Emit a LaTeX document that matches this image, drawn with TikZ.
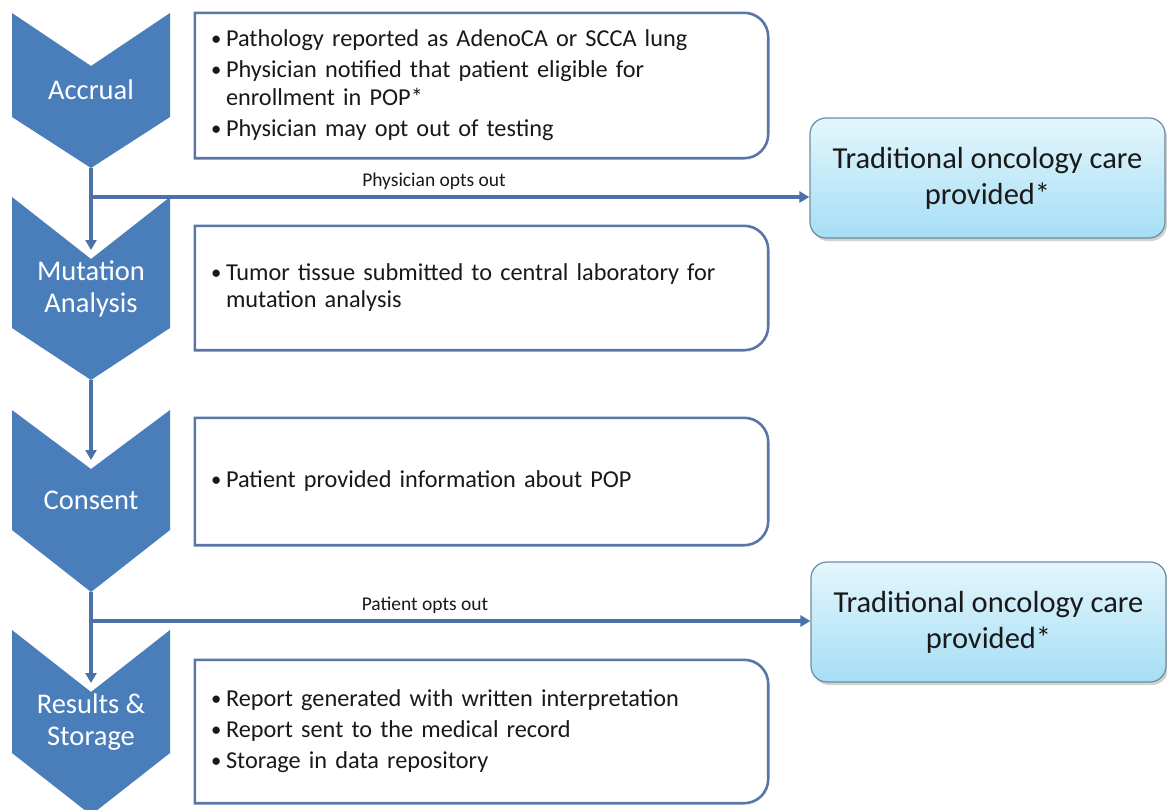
\documentclass[tikz,border=0pt]{standalone}
\usepackage{fontspec}
\setmainfont{Carlito}
\usetikzlibrary{arrows.meta,shadows}
\definecolor{chev}{RGB}{74,126,187}
\definecolor{conn}{RGB}{76,112,168}
\definecolor{tbord}{RGB}{88,118,166}
\definecolor{rbord}{RGB}{110,140,160}
\definecolor{rtop}{RGB}{228,246,252}
\definecolor{rbot}{RGB}{165,222,245}
\definecolor{txt}{RGB}{25,25,25}
\newcommand\bul{\makebox[15pt][l]{\raisebox{1pt}{\scalebox{0.85}{\textbullet}}}}
\newcommand\ind{\hspace*{15pt}}
\tikzset{
  chevshape/.style={fill=chev,draw=none},
  chevlabel/.style={text=white,font=\fontsize{28.5}{32}\selectfont,align=center,inner sep=0pt},
  tbox/.style={minimum width=573pt,minimum height=145pt,inner xsep=16pt,text width=541pt,align=left,
     text=txt,font=\fontsize{24.3}{31}\selectfont},
  tline/.style={draw=tbord,line width=2.6pt},
  rbox/.style={draw=rbord,line width=1.2pt,rounded corners=16pt,top color=rtop,bottom color=rbot,
     minimum width=355pt,minimum height=120pt,align=center,text=txt,font=\fontsize{30.5}{36}\selectfont,
     drop shadow={shadow xshift=2pt,shadow yshift=-3pt,opacity=0.35}},
  conn/.style={draw=conn,line width=3.2pt},
  arr/.style={-{Triangle[width=11pt,length=10pt]}},
  lbl/.style={text=txt,font=\fontsize{19.5}{22}\selectfont,inner sep=0pt}
}
\newcommand\outline[1]{%
  \draw[tline] (#1.south west) -- (#1.north west) -- ([xshift=-24pt]#1.north east)
    arc[start angle=90,end angle=0,radius=24pt] -- ([yshift=24pt]#1.south east)
    arc[start angle=0,end angle=-90,radius=24pt] -- cycle;}
\begin{document}
\begin{tikzpicture}[x=1pt,y=1pt]
\useasboundingbox (0,0) rectangle (1167,-809);
\fill[white] (0,0) rectangle (1167,-809);
\begin{scope}
\clip (0,0) rectangle (1167,-809);
% chevrons
\fill[chevshape] (12,-13) -- (91,-66) -- (170,-13) -- (170,-117) -- (91,-168) -- (12,-117) -- cycle;
\fill[chevshape] (12,-197) -- (91,-259) -- (170,-197) -- (170,-328) -- (91,-380) -- (12,-328) -- cycle;
\fill[chevshape] (12,-410) -- (91,-469) -- (170,-410) -- (170,-530) -- (91,-592) -- (12,-530) -- cycle;
\fill[chevshape] (12,-630) -- (91,-692) -- (170,-630) -- (170,-753) -- (91,-815) -- (12,-753) -- cycle;
\end{scope}
\node[chevlabel] (c1) at (91,-90) {Accrual};
\node[chevlabel] (c2) at (91,-289) {Mutation\\Analysis};
\node[chevlabel] (c3) at (91,-500) {Consent};
\node[chevlabel] (c4) at (91,-722) {Results \&\\Storage};
\coordinate (p1) at (91,-168);
\coordinate (n2) at (91,-259);
\coordinate (p2) at (91,-380);
\coordinate (n3) at (91,-469);
\coordinate (p3) at (91,-592);
\coordinate (n4) at (91,-692);
\coordinate (j1) at (91,-197);
\coordinate (j2) at (91,-621);
% text boxes
\node[tbox] (b1) at (481.5,-85.5) {\bul Pathology reported as AdenoCA or SCCA lung\\
\bul Physician notified that patient eligible for\\[-3pt]
\ind enrollment in POP*\\
\bul Physician may opt out of testing};
\node[tbox,minimum height=124pt] (b2) at (481.5,-288) {\bul Tumor tissue submitted to central laboratory for\\[-4pt]
\ind mutation analysis};
\node[tbox,minimum height=127pt] (b3) at (481.5,-481.5) {\bul Patient provided information about POP};
\node[tbox,minimum height=143pt] (b4) at (481.5,-731.5) {\bul Report generated with written interpretation\\
\bul Report sent to the medical record\\
\bul Storage in data repository};
\outline{b1}
\outline{b2}
\outline{b3}
\outline{b4}
% right boxes
\node[rbox] (r1) at (987.5,-178) {Traditional oncology care\\provided*};
\node[rbox] (r2) at (988.5,-622) {Traditional oncology care\\provided*};
% connectors
\draw[conn,arr,shorten >=9pt] (p1) -- (n2);
\draw[conn,arr,shorten >=9pt] (p2) -- (n3);
\draw[conn,arr,shorten >=9pt] (p3) -- (n4);
\draw[conn,arr] (j1) -- (j1 -| r1.west);
\draw[conn,arr] (j2) -- (j2 -| r2.west);
\node[lbl] (l1) at (434,-181) {Physician opts out};
\node[lbl] (l2) at (425,-605) {Patient opts out};
\end{tikzpicture}
\end{document}
